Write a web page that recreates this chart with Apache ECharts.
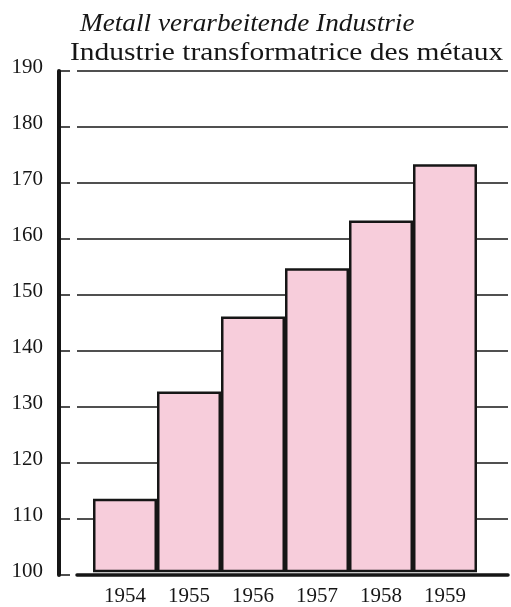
<!DOCTYPE html>
<html>
<head>
<meta charset="utf-8">
<script src="https://cdn.jsdelivr.net/npm/echarts@6/dist/echarts.min.js"></script>
<style>
  html, body { margin: 0; padding: 0; background: #fff; }
  #chart { width: 511px; height: 607px; }
</style>
</head>
<body>
<div id="chart"></div>
<script>
// index values, base 100
const years = ['1954', '1955', '1956', '1957', '1958', '1959']
const values = [113, 132.3, 145.8, 154.5, 163.1, 173.2]
const yMin = 100
const yMax = 190
const yStep = 10

const ink = '#161616'
const serif = '"Liberation Serif", "DejaVu Serif", serif'

var myChart = echarts.init(document.getElementById('chart'))
var option

option = {
  backgroundColor: '#fff',
  animation: false,
  // the scanned type is a bit wider than Liberation Serif, so stretch it a little
  graphic: [
    {
      type: 'text',
      x: 80,
      y: 12,
      scaleX: 1.09,
      style: {
        text: 'Metall verarbeitende Industrie',
        font: 'italic 25px ' + serif,
        fill: ink,
        textVerticalAlign: 'top'
      }
    },
    {
      type: 'text',
      x: 70,
      y: 41,
      scaleX: 1.18,
      style: {
        text: 'Industrie transformatrice des métaux',
        font: '25px ' + serif,
        fill: ink,
        textVerticalAlign: 'top'
      }
    }
  ],
  grid: [
    // background grid: gridlines, y axis, baseline
    { left: 77, right: 3, top: 71, bottom: 32 },
    // bars
    { left: 93, right: 34, top: 71, bottom: 32 }
  ],
  xAxis: [
    {
      gridIndex: 0,
      type: 'value',
      min: 0,
      max: 1,
      axisLine: { show: true, lineStyle: { color: ink, width: 3.5 } },
      axisTick: { show: false },
      axisLabel: { show: false },
      splitLine: { show: false }
    },
    {
      gridIndex: 1,
      type: 'category',
      data: years,
      axisLine: { show: false },
      axisTick: { show: false },
      axisLabel: { fontFamily: serif, fontSize: 21, color: ink, margin: 15 }
    }
  ],
  yAxis: [
    {
      gridIndex: 0,
      type: 'value',
      min: yMin,
      max: yMax,
      interval: yStep,
      offset: 18,
      axisLine: { show: true, onZero: false, lineStyle: { color: ink, width: 4 } },
      axisTick: { show: true, inside: true, length: 11, lineStyle: { color: ink, width: 1.5 } },
      axisLabel: {
        fontFamily: serif,
        fontSize: 21,
        color: ink,
        margin: 16,
        verticalAlign: 'bottom',
        lineHeight: 8
      },
      splitLine: { show: true, lineStyle: { color: ink, width: 1.5 } }
    },
    {
      gridIndex: 1,
      type: 'value',
      min: yMin,
      max: yMax,
      interval: yStep,
      show: false
    }
  ],
  series: [
    {
      name: 'Index',
      type: 'bar',
      xAxisIndex: 1,
      yAxisIndex: 1,
      barWidth: '100%',
      data: values,
      itemStyle: {
        color: '#f7cddb',
        borderColor: ink,
        borderWidth: 2.5
      }
    }
  ]
}

option && myChart.setOption(option)
</script>
</body>
</html>
